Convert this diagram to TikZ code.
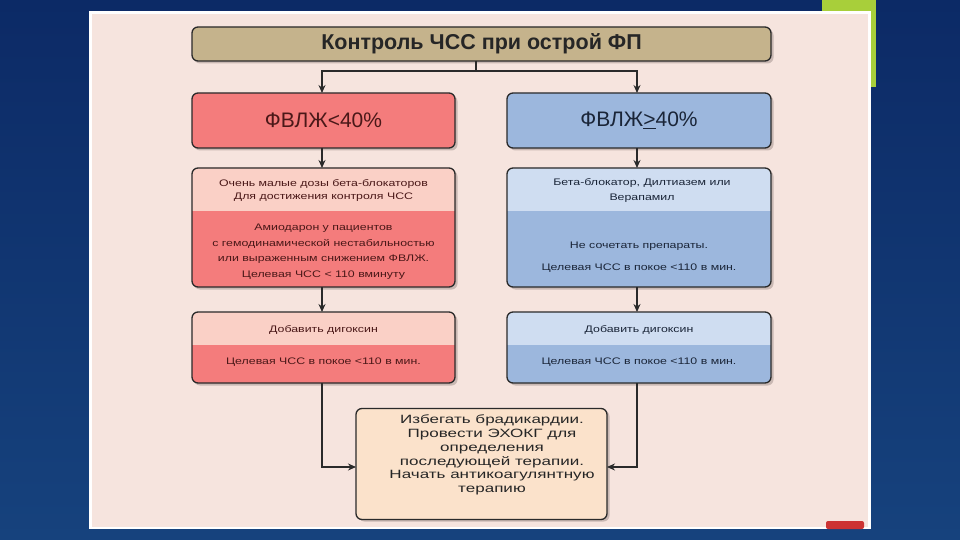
\documentclass[tikz,border=0pt]{standalone}
\usepackage{fontspec}
\setmainfont{Liberation Sans}
\newfontfamily\widefont[FakeStretch=1.3]{Liberation Sans}
\newfontfamily\widerfont[FakeStretch=1.42]{Liberation Sans}
\usetikzlibrary{arrows.meta}
\definecolor{bgtop}{HTML}{0C2A66}
\definecolor{bgbot}{HTML}{16427D}
\definecolor{greenbar}{HTML}{A8CF3A}
\definecolor{panel}{HTML}{F6E4DE}
\definecolor{tan}{HTML}{C5B38C}
\definecolor{redf}{HTML}{F47C7C}
\definecolor{pinkf}{HTML}{FAD0C6}
\definecolor{bluef}{HTML}{9CB7DD}
\definecolor{lbluef}{HTML}{CFDDF1}
\definecolor{peach}{HTML}{FBE2CB}
\definecolor{redtxt}{HTML}{4A1818}
\definecolor{bluetxt}{HTML}{1A2538}
\definecolor{darktxt}{HTML}{262626}
\definecolor{edge}{HTML}{2A2A2A}
\definecolor{shadowc}{HTML}{C9B8B3}
\tikzset{
  fbox/.style={rectangle, rounded corners=6pt, inner sep=0pt, outer sep=0pt},
  brd/.style={draw=edge, line width=1.3pt, rounded corners=6pt},
  shd/.style={fill=shadowc, rounded corners=6pt},
  arr/.style={draw=edge, line width=1.3pt, -{Stealth[length=8pt,width=7pt]}},
  conn/.style={draw=edge, line width=1.3pt},
  stxt/.style={font=\widefont\fontsize{9.5}{13}\selectfont, align=center, inner sep=0pt},
}
\begin{document}
\begin{tikzpicture}[x=1pt,y=-1pt]
\useasboundingbox (0,0) rectangle (960,540);
\shade[top color=bgtop, bottom color=bgbot] (0,0) rectangle (960,540);
\fill[greenbar] (822,0) rectangle (876,87);
\fill[white] (89,11) rectangle (871,529);
\fill[panel] (92,14) rectangle (868,527);
\fill[red!75!black!80, rounded corners=2pt] (826,521) rectangle (864,529);

% shadows
\fill[shd] (194,29.5) rectangle (773.5,63.5);
\fill[shd] (194,95.5) rectangle (457.5,150.5);
\fill[shd] (509.5,95.5) rectangle (773.5,150.5);
\fill[shd] (194,170.5) rectangle (457.5,289.5);
\fill[shd] (509.5,170.5) rectangle (773.5,289.5);
\fill[shd] (194,314.5) rectangle (457.5,385.5);
\fill[shd] (509.5,314.5) rectangle (773.5,385.5);
\fill[shd] (358.5,410.5) rectangle (609.5,521.5);

% top bar
\node[fbox, fill=tan, minimum width=579pt, minimum height=34pt, font=\bfseries\fontsize{21.5}{23}\selectfont, text=darktxt] (top) at (481.5,44) {Контроль ЧСС при острой ФП};
\draw[brd] (top.north west) rectangle (top.south east);

% level 1
\node[fbox, fill=redf, minimum width=263pt, minimum height=55pt, font=\fontsize{21}{24}\selectfont, text=redtxt] (l1) at (323.5,120.5) {ФВЛЖ<40\%};
\draw[brd] (l1.north west) rectangle (l1.south east);
\node[fbox, fill=bluef, minimum width=264pt, minimum height=55pt, font=\fontsize{21}{24}\selectfont, text=bluetxt] (r1) at (639,120.5) {ФВЛЖ\underline{>}40\%};
\draw[brd] (r1.north west) rectangle (r1.south east);

% level 2
\node[fbox, fill=redf, minimum width=263pt, minimum height=119pt] (l2) at (323.5,227.5) {};
\begin{scope}
\clip[rounded corners=6pt] (l2.north west) rectangle (l2.south east);
\fill[pinkf] (l2.north west) rectangle (l2.east |- 0,211);
\end{scope}
\draw[brd] (l2.north west) rectangle (l2.south east);
\node[stxt, text=redtxt] (l2a) at (323.5,190.5) {Очень малые дозы бета-блокаторов\\Для достижения контроля ЧСС};
\node[stxt, text=redtxt, font=\widefont\fontsize{9.5}{15.5}\selectfont] (l2b) at (323.5,251.5) {Амиодарон у пациентов\\с гемодинамической нестабильностью\\или выраженным снижением ФВЛЖ.\\Целевая ЧСС < 110 вминуту};

\node[fbox, fill=bluef, minimum width=264pt, minimum height=119pt] (r2) at (639,227.5) {};
\begin{scope}
\clip[rounded corners=6pt] (r2.north west) rectangle (r2.south east);
\fill[lbluef] (r2.north west) rectangle (r2.east |- 0,211);
\end{scope}
\draw[brd] (r2.north west) rectangle (r2.south east);
\node[stxt, text=bluetxt, font=\widefont\fontsize{9.5}{15}\selectfont] (r2a) at (642,190.5) {Бета-блокатор, Дилтиазем или\\Верапамил};
\node[stxt, text=bluetxt, font=\widefont\fontsize{9.5}{22}\selectfont] (r2b) at (639,257) {Не сочетать препараты.\\Целевая ЧСС в покое <110 в мин.};

% level 3
\node[fbox, fill=redf, minimum width=263pt, minimum height=71pt] (l3) at (323.5,347.5) {};
\begin{scope}
\clip[rounded corners=6pt] (l3.north west) rectangle (l3.south east);
\fill[pinkf] (l3.north west) rectangle (l3.east |- 0,345);
\end{scope}
\draw[brd] (l3.north west) rectangle (l3.south east);
\node[stxt, text=redtxt] (l3a) at (323.5,330) {Добавить дигоксин};
\node[stxt, text=redtxt] (l3b) at (323.5,362) {Целевая ЧСС в покое <110 в мин.};

\node[fbox, fill=bluef, minimum width=264pt, minimum height=71pt] (r3) at (639,347.5) {};
\begin{scope}
\clip[rounded corners=6pt] (r3.north west) rectangle (r3.south east);
\fill[lbluef] (r3.north west) rectangle (r3.east |- 0,345);
\end{scope}
\draw[brd] (r3.north west) rectangle (r3.south east);
\node[stxt, text=bluetxt] (r3a) at (639,330) {Добавить дигоксин};
\node[stxt, text=bluetxt] (r3b) at (639,362) {Целевая ЧСС в покое <110 в мин.};

% bottom
\node[fbox, fill=peach, minimum width=251pt, minimum height=111pt] (bot) at (481.5,464) {};
\draw[brd] (bot.north west) rectangle (bot.south east);
\node[stxt, text=darktxt, font=\widerfont\fontsize{12}{13.8}\selectfont] (bott) at (492,455) {Избегать брадикардии.\\Провести ЭХОКГ для\\определения\\последующей терапии.\\Начать антикоагулянтную\\терапию};

% connectors
\coordinate (split) at (476,71);
\draw[conn] (476,61) -- (split);
\draw[arr] (split) -| (322,93);
\draw[arr] (split) -| (637,93);
\draw[arr] (322,148) -- (322,168);
\draw[arr] (637,148) -- (637,168);
\draw[arr] (322,287) -- (322,312);
\draw[arr] (637,287) -- (637,312);
\draw[arr] (322,383) |- (bot.west |- 0,467);
\draw[arr] (637,383) |- (bot.east |- 0,467);
\end{tikzpicture}
\end{document}
